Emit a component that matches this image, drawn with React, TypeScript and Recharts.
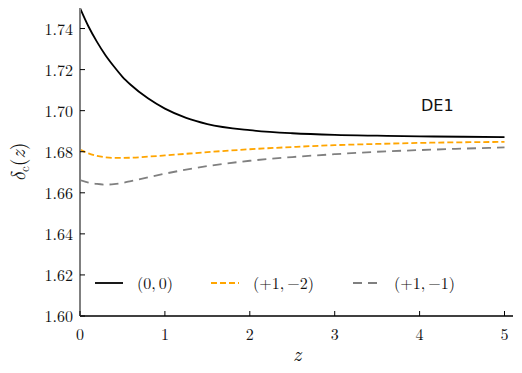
import React from "react";
import { LineChart, Line, XAxis, YAxis } from "recharts";

const zValues = [0, 0.1, 0.2, 0.3, 0.4, 0.5, 0.6, 0.8, 1.0, 1.25, 1.5, 2, 2.5, 3, 3.5, 4, 4.5, 5];
const seriesZero = [
  1.75, 1.741, 1.7335, 1.727, 1.7215, 1.7165, 1.7125, 1.706, 1.701, 1.6965, 1.6935, 1.6905,
  1.689, 1.6882, 1.6878, 1.6875, 1.6873, 1.6871,
];
const seriesPlus1Minus2 = [
  1.681, 1.6792, 1.678, 1.6773, 1.677, 1.677, 1.6771, 1.6776, 1.6782, 1.679, 1.6798, 1.6812,
  1.6823, 1.6832, 1.6838, 1.6843, 1.6846, 1.6848,
];
const seriesPlus1Minus1 = [
  1.6662, 1.665, 1.6643, 1.664, 1.6642, 1.6648, 1.6657, 1.6675, 1.6693, 1.6713, 1.673, 1.6756,
  1.6774, 1.6788, 1.68, 1.6808, 1.6815, 1.6821,
];
const xTicks = [0, 1, 2, 3, 4, 5];
const yTicks = [1.6, 1.62, 1.64, 1.66, 1.68, 1.7, 1.72, 1.74];
const legendLabels = ["(0,\u20090)", "(+1,\u2009\u22122)", "(+1,\u2009\u22121)"];

const data = zValues.map((z, i) => ({
  z,
  a: seriesZero[i],
  b: seriesPlus1Minus2[i],
  c: seriesPlus1Minus1[i],
}));

const serif = "'Latin Modern Roman', 'Latin Modern Math', 'Liberation Serif', serif";
const TICK = 5;

const BottomTick = (props: any) => {
  const { x, y, payload } = props;
  return (
    <g>
      <line x1={x} x2={x} y1={y} y2={y - TICK} stroke="#000" strokeWidth={1} />
      <text x={x} y={y + 24} textAnchor="middle" style={{ fontFamily: serif }} fontSize={16} fill="#111">
        {payload.value}
      </text>
    </g>
  );
};

const TopTick = (props: any) => {
  const { x, y } = props;
  return <line x1={x} x2={x} y1={y} y2={y + TICK} stroke="#000" strokeWidth={1} />;
};

const LeftTick = (props: any) => {
  const { x, y, payload } = props;
  return (
    <g>
      <line x1={x} x2={x + TICK} y1={y} y2={y} stroke="#000" strokeWidth={1} />
      <text x={x - 7} y={y + 6} textAnchor="end" style={{ fontFamily: serif }} fontSize={16} fill="#111">
        {Number(payload.value).toFixed(2)}
      </text>
    </g>
  );
};

const RightTick = (props: any) => {
  const { x, y } = props;
  return <line x1={x} x2={x - TICK} y1={y} y2={y} stroke="#000" strokeWidth={1} />;
};

export default function App() {
  const legendY = 283;
  const items = [
    { x: 95, color: "#000", dash: undefined, label: legendLabels[0], lx: 137 },
    { x: 211, color: "#FFA500", dash: "6 3", label: legendLabels[1], lx: 253 },
    { x: 353, color: "#808080", dash: "9 6", label: legendLabels[2], lx: 394 },
  ];
  return (
    <div style={{ position: "absolute", left: 0, top: 0, width: 522, height: 373, background: "#fff" }}>
      <LineChart
        width={522}
        height={373}
        data={data}
        margin={{ top: 8, right: 9, bottom: 0, left: 0 }}
      >
        <XAxis
          xAxisId="bottom"
          dataKey="z"
          type="number"
          domain={[0, 5.1]}
          ticks={xTicks}
          allowDataOverflow
          height={57}
          tickLine={false}
          tickSize={0}
          tickMargin={0}
          tick={<BottomTick />}
          axisLine={{ stroke: "#000", strokeWidth: 1.5 }}
          interval={0}
        />
        <XAxis
          xAxisId="top"
          orientation="top"
          dataKey="z"
          type="number"
          domain={[0, 5.1]}
          ticks={xTicks}
          allowDataOverflow
          height={0}
          tickLine={false}
          tickSize={0}
          tickMargin={0}
          tick={<TopTick />}
          axisLine={{ stroke: "#808080", strokeWidth: 2 }}
          interval={0}
        />
        <YAxis
          yAxisId="left"
          type="number"
          domain={[1.6, 1.75]}
          ticks={yTicks}
          allowDataOverflow
          width={80}
          tickLine={false}
          tickSize={0}
          tickMargin={0}
          tick={<LeftTick />}
          axisLine={{ stroke: "#808080", strokeWidth: 2 }}
          interval={0}
        />
        <YAxis
          yAxisId="right"
          orientation="right"
          type="number"
          domain={[1.6, 1.75]}
          ticks={yTicks}
          allowDataOverflow
          width={0}
          tickLine={false}
          tickSize={0}
          tickMargin={0}
          tick={<RightTick />}
          axisLine={{ stroke: "#808080", strokeWidth: 2 }}
          interval={0}
        />
        <Line
          xAxisId="bottom"
          yAxisId="left"
          dataKey="a"
          type="monotone"
          stroke="#000"
          strokeWidth={1.8}
          dot={false}
          isAnimationActive={false}
        />
        <Line
          xAxisId="bottom"
          yAxisId="left"
          dataKey="b"
          type="monotone"
          stroke="#FFA500"
          strokeWidth={1.8}
          strokeDasharray="6 3"
          dot={false}
          isAnimationActive={false}
        />
        <Line
          xAxisId="bottom"
          yAxisId="left"
          dataKey="c"
          type="monotone"
          stroke="#808080"
          strokeWidth={1.8}
          strokeDasharray="9 6"
          dot={false}
          isAnimationActive={false}
        />
        <text x={421} y={111} style={{ fontFamily: "'DejaVu Sans', sans-serif" }} fontSize={16} fill="#111">
          DE1
        </text>
        {items.map((it) => (
          <g key={it.label}>
            <line
              x1={it.x}
              x2={it.x + 28}
              y1={legendY}
              y2={legendY}
              stroke={it.color}
              strokeWidth={1.8}
              strokeDasharray={it.dash}
            />
            <text x={it.lx} y={legendY + 6} style={{ fontFamily: serif }} fontSize={16} fill="#111">
              {it.label}
            </text>
          </g>
        ))}
        <text x={297} y={361} textAnchor="middle" style={{ fontFamily: serif }} fontStyle="italic" fontSize={20} fill="#111">
          z
        </text>
        <text
          x={25}
          y={162}
          textAnchor="middle"
          style={{ fontFamily: serif }}
          fontSize={20}
          fill="#111"
          transform="rotate(-90 25 162)"
        >
          <tspan fontStyle="italic">δ</tspan>
          <tspan fontSize={13} dy={4}>c</tspan>
          <tspan dy={-4}>(</tspan>
          <tspan fontStyle="italic">z</tspan>
          <tspan>)</tspan>
        </text>
      </LineChart>
    </div>
  );
}
